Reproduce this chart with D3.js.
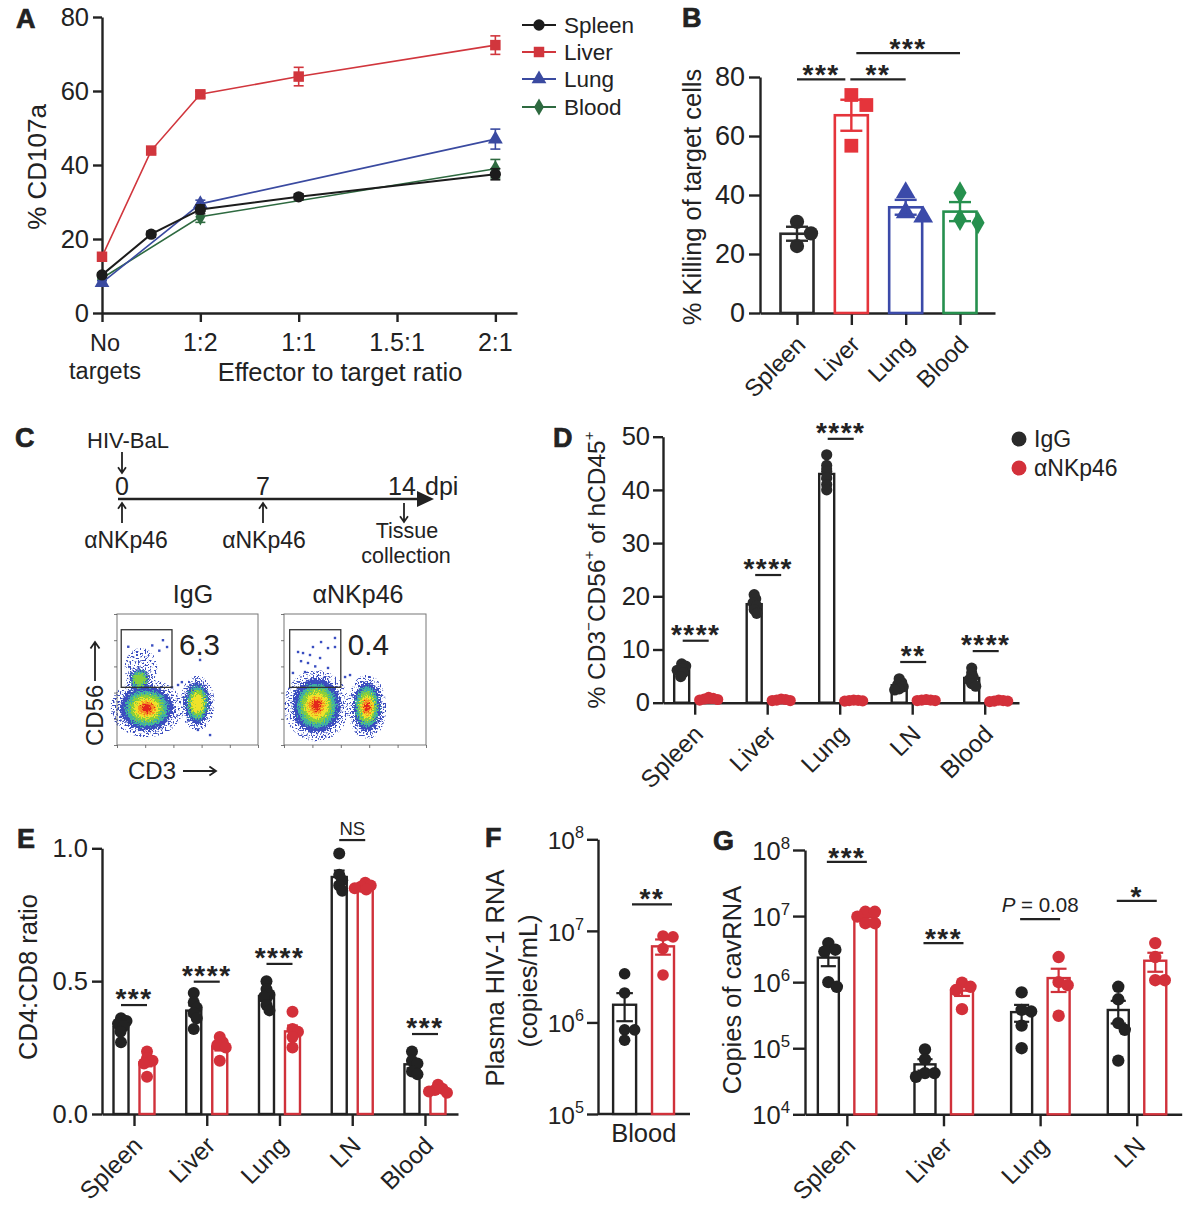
<!DOCTYPE html>
<html><head><meta charset="utf-8">
<script src="https://cdn.jsdelivr.net/npm/d3@7"></script>
<style>
body{margin:0;background:#fff}
svg{display:block}
text{font-family:"Liberation Sans",Arial,Helvetica,sans-serif;fill:#222}
</style></head>
<body><svg id="fig" width="1200" height="1206" viewBox="0 0 1200 1206"></svg>
<script>
// ===================== DATA =====================
// Panel A
const aXTickLabels = [["No","targets"],["1:2"],["1:1"],["1.5:1"],["2:1"]];
const aXTickPos = [0,1,2,3,4];
const aPointX = [0,0.5,1,2,4];
const aYTicks = [0,20,40,60,80];
const aNames = ["Spleen","Liver","Lung","Blood"];
const aSpleen = [10.3,21.3,28.0,31.4,37.5];
const aSpleenErr = [0.5,0.8,1.2,0.8,1.5];
const aLiver = [15.2,43.9,59.1,63.9,72.4];
const aLiverErr = [1.0,0.8,0.8,2.5,2.5];
const aLung = [8.2,null,29.5,null,47.0];
const aLungErr = [0.5,null,1.0,null,2.7];
const aBlood = [9.4,null,26.0,null,39.0];
const aBloodErr = [0.5,null,1.5,null,2.5];

// Panel B
const bCats = ["Spleen","Liver","Lung","Blood"];
const bYTicks = [0,20,40,60,80];
const bPoints = [[30.9,22.7,27.0],[73.9,70.5,56.7],[40.8,32.6,34.1],[40.8,30.6,31.7]];
const bSig = [["***",0,1,79.2],["**",1,2,79.2],["***",1,3,88.1]];

// Panel C
const cDays = [0,7,14];
const flowIgGClusters = [
  {cx:0.21,cy:0.28,rx:0.19,ry:0.17,levels:6},
  {cx:0.17,cy:0.59,rx:0.11,ry:0.15,levels:0},
  {cx:0.16,cy:0.50,rx:0.07,ry:0.08,levels:3},
  {cx:0.57,cy:0.32,rx:0.09,ry:0.16,levels:4}
];
const flowAntiClusters = [
  {cx:0.23,cy:0.30,rx:0.17,ry:0.21,levels:6},
  {cx:0.585,cy:0.29,rx:0.10,ry:0.19,levels:6}
];
const flowIgGEvents = [[0.326,0.80],[0.355,0.748],[0.589,0.649],[0.66,0.076],[0.574,0.115],[0.433,0.458],[0.46,0.48],[0.52,0.458],[0.30,0.72],[0.39,0.44],[0.08,0.75],[0.25,0.76]];
const flowAntiEvents = [[0.099,0.71],[0.134,0.702],[0.183,0.687],[0.261,0.786],[0.31,0.74],[0.359,0.817],[0.359,0.748],[0.204,0.748],[0.254,0.664],[0.169,0.626],[0.063,0.55],[0.148,0.557],[0.31,0.588],[0.43,0.519],[0.465,0.534],[0.22,0.60],[0.12,0.64]];
const flowGateIgG = "6.3";
const flowGateAnti = "0.4";

// Panel D
const dCats = ["Spleen","Liver","Lung","LN","Blood"];
const dYTicks = [0,10,20,30,40,50];
const dIgG = [[7.3,6.9,6.4,6.1,5.6,4.9],[20.3,19.5,18.8,18.2,17.5,16.8],[46.6,44.6,43.5,42.3,41.0,40.0],[4.5,3.8,3.4,3.0,2.6,2.4],[6.5,5.6,4.8,4.3,3.6,3.1]];
const dAnti = [[1.0,0.8,0.7,0.6,0.5],[0.7,0.6,0.5,0.4,0.4],[0.5,0.45,0.4,0.35,0.3],[0.6,0.5,0.5,0.4,0.4],[0.5,0.4,0.3,0.3,0.2]];
const dSigLabels = ["****","****","****","**","****"];
const dSigLevels = [11.65,24.0,49.6,7.65,9.7];

// Panel E
const eCats = ["Spleen","Liver","Lung","LN","Blood"];
const eYTicks = [0,0.5,1.0];
const eIgG = [[0.36,0.35,0.34,0.33,0.31,0.27],[0.455,0.42,0.40,0.38,0.36,0.32],[0.50,0.47,0.45,0.44,0.41,0.39],[0.98,0.90,0.88,0.86,0.84],[0.235,0.20,0.19,0.16,0.15]];
const eAnti = [[0.235,0.21,0.20,0.19,0.14],[0.29,0.27,0.26,0.25,0.20],[0.385,0.32,0.31,0.29,0.25],[0.87,0.86,0.855,0.85,0.845],[0.11,0.095,0.09,0.085,0.08]];
const eSigLabels = ["***","****","****","NS","***"];
const eSigLevels = [0.41,0.498,0.565,1.031,0.301];

// Panel F
const fCat = "Blood";
const fYTicks = [1e5,1e6,1e7,1e8];
const fIgG = [3.4e6,2.1e6,8.3e5,8.3e5,6.4e5];
const fAnti = [8.6e6,8.8e6,6.4e6,3.3e6];
const fSigLabel = "**";
const fSigLevel = 1.95e7;

// Panel G
const gCats = ["Spleen","Liver","Lung","LN"];
const gYTicks = [1e4,1e5,1e6,1e7,1e8];
const gIgG = [[3.9e6,3.1e6,2.9e6,1.0e6,8.5e5],[9.6e4,6.8e4,4.2e4,4.2e4,3.7e4],[7.0e5,3.6e5,3.8e5,2.2e5,1.0e5],[8.5e5,5.5e5,2.4e5,1.9e5,6.5e4]];
const gAnti = [[1.16e7,1.16e7,9.8e6,7.8e6,7.8e6],[9.8e5,8.5e5,7.6e5,3.9e5],[2.4e6,1.0e6,9.0e5,3.1e5],[3.9e6,2.4e6,1.07e6,1.07e6]];
const gSigLabels = ["***","***","P = 0.08","*"];
const gSigLevels = [6.6e7,3.9e6,9.0e6,1.7e7];

// ===================== STYLE =====================
const FONT = '"Liberation Sans", Arial, Helvetica, sans-serif';
const INK = "#222";
const RED = "#d0313a";
const aColors = ["#1c1c1c","#d1363d","#3a4aa0","#2e6a40"];
const bColors = ["#2a2a2a","#e5343b","#3b4aa9","#26904e"];
const flowColors = ["#3a4ec0","#3fb3a0","#86cf3c","#f0e229","#f59322","#e4261d"];
const flowFrac = [1,0.8,0.63,0.47,0.32,0.18];
const STAR = 28;

const svg = d3.select("#fig");
const defs = svg.append("defs");
const flt = defs.append("filter").attr("id","rough").attr("x","-30%").attr("y","-30%").attr("width","160%").attr("height","160%");
flt.append("feTurbulence").attr("type","fractalNoise").attr("baseFrequency",0.7).attr("numOctaves",2).attr("seed",5).attr("result","n");
flt.append("feDisplacementMap").attr("in","SourceGraphic").attr("in2","n").attr("scale",11).attr("xChannelSelector","R").attr("yChannelSelector","G");
const spk = defs.append("filter").attr("id","speckle").attr("x","-30%").attr("y","-30%").attr("width","160%").attr("height","160%");
spk.append("feTurbulence").attr("type","fractalNoise").attr("baseFrequency",0.6).attr("numOctaves",1).attr("seed",11).attr("result","t");
spk.append("feColorMatrix").attr("in","t").attr("type","matrix")
  .attr("values","0 0 0 0 0  0 0 0 0 0  0 0 0 0 0  12 0 0 0 -6.4").attr("result","a");
spk.append("feComposite").attr("in","SourceGraphic").attr("in2","a").attr("operator","in");

function styleAxis(g, fs, sw) {
  sw = sw || 2.4;
  g.attr("font-family", FONT).attr("font-size", fs);
  g.select(".domain").attr("stroke", INK).attr("stroke-width", sw);
  g.selectAll(".tick line").attr("stroke", INK).attr("stroke-width", sw);
  g.selectAll(".tick text").attr("fill", INK);
}
function letter(x, y, ch) {
  svg.append("text").attr("x", x).attr("y", y).attr("font-size", 27).attr("font-weight", "bold")
    .attr("stroke", INK).attr("stroke-width", 0.7).text(ch);
}
function text(g, x, y, s, fs, anchor, extra) {
  const t = g.append("text").attr("x", x).attr("y", y).attr("font-size", fs).attr("text-anchor", anchor || "middle").text(s);
  if (extra) Object.entries(extra).forEach(([k, v]) => t.attr(k, v));
  return t;
}
function yTitle(g, cx, cy, fs, parts) {
  const t = g.append("text").attr("transform", `translate(${cx + 0.35 * fs},${cy}) rotate(-90)`)
    .attr("text-anchor", "middle").attr("font-size", fs);
  let up = false;
  parts.forEach(([s, sup]) => {
    const ts = t.append("tspan").text(s);
    if (sup && !up) { ts.attr("dy", -0.42 * fs).attr("font-size", fs * 0.62); up = true; }
    else if (sup) { ts.attr("font-size", fs * 0.62); }
    else if (up) { ts.attr("dy", 0.42 * fs); up = false; }
  });
  return t;
}
function rotLabels(g, xs, y0, labels, fs) {
  labels.forEach((l, i) => {
    g.append("text").attr("transform", `translate(${xs[i] + 10},${y0 + 33}) rotate(-45)`)
      .attr("text-anchor", "end").attr("font-size", fs).text(l);
  });
}
function swarm(ys, r, overlap) {
  const order = ys.map((y, i) => i).sort((a, b) => ys[a] - ys[b]);
  const placed = [], xs = new Array(ys.length);
  const minD = 2 * r * overlap;
  for (const i of order) {
    let best = 0;
    for (let k = 0; k < 400; k++) {
      const c = (k % 2 ? 1 : -1) * Math.ceil(k / 2) * 0.5;
      if (placed.every(p => (p.x - c) ** 2 + (p.y - ys[i]) ** 2 >= minD * minD)) { best = c; break; }
    }
    xs[i] = best; placed.push({ x: best, y: ys[i] });
  }
  return xs;
}
function sigMark(g, x1, x2, yLine, label, fs, dyText) {
  g.append("line").attr("x1", x1).attr("x2", x2).attr("y1", yLine).attr("y2", yLine)
    .attr("stroke", INK).attr("stroke-width", 2.2);
  const cx = (x1 + x2) / 2;
  if (label.startsWith("P")) {
    const t = text(g, cx, yLine + dyText, "", fs, "middle");
    t.append("tspan").attr("font-style", "italic").text("P");
    t.append("tspan").text(label.slice(1));
  } else if (label.includes("*")) {
    text(g, cx, yLine + dyText, label, fs, "middle", { "font-weight": "bold", "letter-spacing": "1.5px" });
  } else {
    text(g, cx, yLine + dyText, label, fs, "middle");
  }
}
// generic bar + dot chart
function barGroups(g, x, y, base, nCats, groups, r, overlap, logScale) {
  const stats = groups.map(gr => gr.values.map(v => {
    const m = d3.mean(v);
    const s = d3.deviation(v) / Math.sqrt(v.length);
    return { m, s };
  }));
  groups.forEach((gr, gi) => {
    for (let i = 0; i < nCats; i++) {
      const cx = x(i) + gr.offset, m = stats[gi][i].m;
      g.append("rect").attr("x", cx - gr.width / 2).attr("y", y(m)).attr("width", gr.width)
        .attr("height", Math.max(0, base - y(m))).attr("fill", "#fff")
        .attr("stroke", gr.color).attr("stroke-width", gr.sw || 2.4);
    }
  });
  groups.forEach((gr, gi) => {
    for (let i = 0; i < nCats; i++) {
      const cx = x(i) + gr.offset, st = stats[gi][i];
      const lo = logScale ? Math.max(st.m - st.s, st.m * 0.3) : st.m - st.s;
      const y1 = y(st.m + st.s), y2 = y(lo), cw = gr.width * 0.72;
      const eg = g.append("g").attr("stroke", gr.color).attr("stroke-width", 2.2);
      eg.append("line").attr("x1", cx).attr("x2", cx).attr("y1", y1).attr("y2", y2);
      eg.append("line").attr("x1", cx - cw / 2).attr("x2", cx + cw / 2).attr("y1", y1).attr("y2", y1);
      eg.append("line").attr("x1", cx - cw / 2).attr("x2", cx + cw / 2).attr("y1", y2).attr("y2", y2);
    }
  });
  groups.forEach((gr, gi) => {
    for (let i = 0; i < nCats; i++) {
      const vals = gr.values[i];
      const ys = vals.map(v => y(v));
      const offs = swarm(ys, r, overlap);
      const cx = x(i) + gr.offset;
      g.selectAll(null).data(vals).enter().append("circle")
        .attr("cx", (d, k) => cx + offs[k]).attr("cy", d => y(d)).attr("r", r)
        .attr("fill", gr.dot || gr.color);
    }
  });
}
function logTickLabels(g, yS, ticks, xRight, fs) {
  ticks.forEach(t => {
    const e = Math.round(Math.log10(t));
    const tx = g.append("text").attr("x", xRight).attr("y", yS(t) + 10).attr("text-anchor", "end").attr("font-size", fs);
    tx.append("tspan").text("10");
    tx.append("tspan").attr("dy", -11).attr("font-size", fs * 0.66).text(String(e));
  });
}

// ===================== PANEL A =====================
(function () {
  const g = svg.append("g");
  const x = d3.scaleLinear().domain([0, 4.22]).range([102, 517]);
  const y = d3.scaleLinear().domain([0, 80]).range([313, 17]);
  g.append("g").attr("transform", "translate(102,0)")
    .call(d3.axisLeft(y).tickValues(aYTicks).tickSize(9).tickSizeOuter(0).tickPadding(4))
    .call(a => styleAxis(a, 25.5));
  g.append("g").attr("transform", "translate(0,313)")
    .call(d3.axisBottom(x).tickValues(aXTickPos).tickSize(9).tickSizeOuter(0).tickFormat(""))
    .call(a => styleAxis(a, 25));
  aXTickPos.forEach((p, i) => {
    const fs = i === 0 ? 23.5 : 25;
    const t = g.append("text").attr("x", x(p) + (i === 0 ? 3 : 0)).attr("y", 351).attr("text-anchor", "middle").attr("font-size", fs);
    aXTickLabels[i].forEach((ln, j) => t.append("tspan").attr("x", x(p) + (i === 0 ? 3 : 0)).attr("dy", j ? 27.5 : 0).text(ln));
  });
  text(g, 340, 381, "Effector to target ratio", 25.5);
  yTitle(g, 37, 167, 26, [["% CD107a", 0]]);

  const series = [aSpleen, aLiver, aLung, aBlood];
  const errs = [aSpleenErr, aLiverErr, aLungErr, aBloodErr];
  const shapes = [d3.symbolCircle, d3.symbolSquare, d3.symbolTriangle, d3.symbolDiamond];
  const sizes = [100, 110, 95, 85];
  const order = [3, 2, 0, 1];
  order.forEach(si => {
    const pts = aPointX.map((px, k) => ({ x: px, v: series[si][k], e: errs[si][k] })).filter(d => d.v !== null);
    const col = aColors[si];
    g.append("path").datum(pts).attr("fill", "none").attr("stroke", col).attr("stroke-width", si === 0 ? 2 : 1.6)
      .attr("d", d3.line().x(d => x(d.x)).y(d => y(d.v)));
    pts.forEach(d => {
      const cx = x(d.x);
      g.append("line").attr("x1", cx).attr("x2", cx).attr("y1", y(d.v + d.e)).attr("y2", y(d.v - d.e)).attr("stroke", col).attr("stroke-width", 1.6);
      [d.v + d.e, d.v - d.e].forEach(v => g.append("line").attr("x1", cx - 5).attr("x2", cx + 5).attr("y1", y(v)).attr("y2", y(v)).attr("stroke", col).attr("stroke-width", 1.6));
    });
    g.selectAll(null).data(pts).enter().append("path")
      .attr("transform", d => `translate(${x(d.x)},${y(d.v)})`)
      .attr("d", d3.symbol().type(shapes[si]).size(sizes[si])).attr("fill", col);
  });
  const ly = [25, 52, 79, 107];
  aNames.forEach((n, i) => {
    g.append("line").attr("x1", 522).attr("x2", 556).attr("y1", ly[i]).attr("y2", ly[i]).attr("stroke", aColors[i]).attr("stroke-width", 1.8);
    g.append("path").attr("transform", `translate(539,${ly[i]})`).attr("d", d3.symbol().type(shapes[i]).size(sizes[i])).attr("fill", aColors[i]);
    text(g, 564, ly[i] + 8, n, 22.5, "start");
  });
  letter(16, 28, "A");
})();

// ===================== PANEL B =====================
(function () {
  const g = svg.append("g");
  const x = d3.scaleLinear().domain([-0.681, 3.644]).range([760, 995]);
  const y = d3.scaleLinear().domain([0, 80]).range([313, 77]);
  g.append("g").attr("transform", "translate(760,0)")
    .call(d3.axisLeft(y).tickValues(bYTicks).tickSize(11).tickSizeOuter(0).tickPadding(4))
    .call(a => styleAxis(a, 27));
  g.append("g").attr("transform", "translate(0,313)")
    .call(d3.axisBottom(x).tickValues([0, 1, 2, 3]).tickSize(12).tickSizeOuter(0).tickFormat(""))
    .call(a => styleAxis(a, 24));
  rotLabels(g, [0, 1, 2, 3].map(x), 313, bCats, 24);
  yTitle(g, 692, 197, 25.5, [["% Killing of target cells", 0]]);
  const shapes = [d3.symbolCircle, d3.symbolSquare, d3.symbolTriangle, d3.symbolDiamond];
  const sizes = [160, 190, 170, 150];
  bCats.forEach((c, i) => {
    const vals = bPoints[i], m = d3.mean(vals), s = d3.deviation(vals) / Math.sqrt(vals.length);
    const cx = x(i), w = 33, col = bColors[i];
    g.append("rect").attr("x", cx - w / 2).attr("y", y(m)).attr("width", w).attr("height", 313 - y(m))
      .attr("fill", "#fff").attr("stroke", col).attr("stroke-width", 2.6);
    const ys = vals.map(v => y(v));
    const offs = swarm(ys, 7.2, 1.25);
    g.selectAll(null).data(vals).enter().append("path")
      .attr("transform", (d, k) => `translate(${cx + offs[k]},${y(d)})`)
      .attr("d", d3.symbol().type(shapes[i]).size(sizes[i])).attr("fill", col);
    const eg = g.append("g").attr("stroke", col).attr("stroke-width", 2.4);
    eg.append("line").attr("x1", cx).attr("x2", cx).attr("y1", y(m + s)).attr("y2", y(m - s));
    eg.append("line").attr("x1", cx - 11).attr("x2", cx + 11).attr("y1", y(m + s)).attr("y2", y(m + s));
    eg.append("line").attr("x1", cx - 11).attr("x2", cx + 11).attr("y1", y(m - s)).attr("y2", y(m - s));
  });
  const offs = [[0, -6], [-1, 0], [5, 0]];
  bSig.forEach(([lab, a, b, lv], k) => sigMark(g, x(a) + offs[k][0], x(b) + offs[k][1], y(lv), lab, STAR, 5));
  letter(682, 27, "B");
})();

// ===================== PANEL C =====================
(function () {
  const g = svg.append("g");
  const tx = d3.scaleLinear().domain([0, 14]).range([122, 404]);
  const lineY = 499;
  function arrow(x1, y1, x2, y2, head) {
    const p = d3.path(); p.moveTo(x1, y1); p.lineTo(x2, y2);
    const ang = Math.atan2(y2 - y1, x2 - x1);
    const h = head || 7;
    p.moveTo(x2 - h * Math.cos(ang - 0.6), y2 - h * Math.sin(ang - 0.6));
    p.lineTo(x2, y2);
    p.lineTo(x2 - h * Math.cos(ang + 0.6), y2 - h * Math.sin(ang + 0.6));
    g.append("path").attr("d", p.toString()).attr("fill", "none").attr("stroke", INK).attr("stroke-width", 1.8);
  }
  text(g, 128, 448, "HIV-BaL", 22);
  arrow(tx(0), 452, tx(0), 473);
  g.append("line").attr("x1", 118).attr("x2", 418).attr("y1", lineY).attr("y2", lineY).attr("stroke", INK).attr("stroke-width", 2.6);
  g.append("path").attr("d", `M417,${lineY - 8}L434,${lineY}L417,${lineY + 8}Z`).attr("fill", INK);
  cDays.forEach(dd => text(g, tx(dd) + (dd === 14 ? -2 : 0), 495, String(dd), 25));
  text(g, 425, 495, "dpi", 25, "start");
  arrow(tx(0), 523, tx(0), 503);
  arrow(tx(7), 523, tx(7), 503);
  text(g, 126, 548, "\u03b1NKp46", 23);
  text(g, 264, 548, "\u03b1NKp46", 23);
  arrow(tx(14), 503, tx(14), 522);
  text(g, 407, 538, "Tissue", 21.5);
  text(g, 406, 563, "collection", 21.5);

  function flow(x0, y0, w, h, clusters, events, gate, val, title, titleX) {
    const fx = d3.scaleLinear().domain([0, 1]).range([x0, x0 + w]);
    const fy = d3.scaleLinear().domain([0, 1]).range([y0 + h, y0]);
    const cl = g.append("g");
    const halo = cl.append("g").attr("filter", "url(#speckle)");
    clusters.forEach(c => {
      const k = c.levels === 0 ? 1.05 : 1.35;
      halo.append("ellipse").attr("cx", fx(c.cx)).attr("cy", fy(c.cy))
        .attr("rx", (fx(c.rx) - fx(0)) * k).attr("ry", (fy(0) - fy(c.ry)) * (k - 0.05))
        .attr("fill", flowColors[0]);
    });
    const blob = cl.append("g").attr("filter", "url(#rough)");
    clusters.forEach(c => {
      for (let L = 0; L < c.levels; L++) {
        blob.append("ellipse").attr("cx", fx(c.cx)).attr("cy", fy(c.cy))
          .attr("rx", (fx(c.rx) - fx(0)) * flowFrac[L]).attr("ry", (fy(0) - fy(c.ry)) * flowFrac[L])
          .attr("fill", flowColors[L]);
      }
    });
    cl.selectAll(null).data(events).enter().append("rect")
      .attr("x", d => fx(d[0]) - 1.2).attr("y", d => fy(d[1]) - 1.2).attr("width", 2.4).attr("height", 2.4)
      .attr("fill", flowColors[0]);
    g.append("rect").attr("x", x0).attr("y", y0).attr("width", w).attr("height", h)
      .attr("fill", "none").attr("stroke", "#777").attr("stroke-width", 1);
    const ly = d3.scaleLog().domain([1, 1e5]).range([y0 + h, y0]);
    const lx = d3.scaleLog().domain([1, 1e5]).range([x0, x0 + w]);
    g.append("g").attr("transform", `translate(${x0},0)`).call(d3.axisLeft(ly).ticks(5).tickSize(3).tickSizeOuter(0).tickFormat(""))
      .call(a => { a.select(".domain").remove(); a.selectAll("line").attr("stroke", "#555").attr("stroke-width", 0.8); });
    g.append("g").attr("transform", `translate(0,${y0 + h})`).call(d3.axisBottom(lx).ticks(5).tickSize(3).tickSizeOuter(0).tickFormat(""))
      .call(a => { a.select(".domain").remove(); a.selectAll("line").attr("stroke", "#555").attr("stroke-width", 0.8); });
    g.append("rect").attr("x", fx(gate[0])).attr("y", fy(gate[3])).attr("width", fx(gate[1]) - fx(gate[0]))
      .attr("height", fy(gate[2]) - fy(gate[3])).attr("fill", "none").attr("stroke", "#333").attr("stroke-width", 1.3);
    text(g, fx(gate[1]) + 7, 655, val, 29.5, "start", { fill: "#333" });
    text(g, titleX, 603, title, 25);
  }
  flow(117, 614, 141, 131, flowIgGClusters, flowIgGEvents, [0.03, 0.39, 0.44, 0.88], flowGateIgG, "IgG", 193);
  flow(284, 614, 142, 131, flowAntiClusters, flowAntiEvents, [0.04, 0.40, 0.44, 0.88], flowGateAnti, "\u03b1NKp46", 358);
  g.append("text").attr("transform", `translate(${95 + 0.35 * 24},746) rotate(-90)`).attr("font-size", 24).attr("text-anchor", "start").text("CD56");
  arrow(95, 681, 95, 642, 8);
  text(g, 128, 779, "CD3", 24, "start");
  arrow(183, 771, 216, 771, 8);
  letter(15, 447, "C");
})();

// ===================== PANEL D =====================
(function () {
  const g = svg.append("g");
  const x = d3.scaleLinear().domain([-0.437, 4.473]).range([663, 1019]);
  const y = d3.scaleLinear().domain([0, 50]).range([702.7, 436.7]);
  const base = 702.7;
  g.append("g").attr("transform", "translate(663,0)")
    .call(d3.axisLeft(y).tickValues(dYTicks).tickSize(10).tickSizeOuter(0).tickPadding(3))
    .call(a => styleAxis(a, 25.5));
  g.append("g").attr("transform", `translate(0,${base})`)
    .call(d3.axisBottom(x).tickValues(d3.range(dCats.length)).tickSize(12).tickSizeOuter(0).tickFormat(""))
    .call(a => styleAxis(a, 24));
  barGroups(g, x, y, base, dCats.length, [
    { values: dIgG, color: INK, dot: "#2a2a2a", offset: -13, width: 15 },
    { values: dAnti, color: RED, dot: "#d3303a", offset: 14, width: 15 }
  ], 5.6, 0.4, false);
  dCats.forEach((c, i) => sigMark(g, x(i) - 12, x(i) + 14, y(dSigLevels[i]), dSigLabels[i], STAR, 3));
  rotLabels(g, d3.range(dCats.length).map(x), base, dCats, 24.5);
  yTitle(g, 596, 570, 24.5, [["% CD3", 0], ["\u2212", 1], ["CD56", 0], ["+", 1], [" of hCD45", 0], ["+", 1]]);
  g.append("circle").attr("cx", 1019).attr("cy", 439).attr("r", 7.5).attr("fill", "#2a2a2a");
  g.append("circle").attr("cx", 1019).attr("cy", 468).attr("r", 7.5).attr("fill", "#d3303a");
  text(g, 1034, 447, "IgG", 23, "start");
  text(g, 1034, 476, "\u03b1NKp46", 23, "start");
  letter(553, 447, "D");
})();

// ===================== PANEL E =====================
(function () {
  const g = svg.append("g");
  const x = d3.scaleLinear().domain([-0.44, 4.454]).range([102, 458]);
  const y = d3.scaleLinear().domain([0, 1]).range([1114, 848.3]);
  const base = 1114;
  g.append("g").attr("transform", "translate(102,0)")
    .call(d3.axisLeft(y).tickValues(eYTicks).tickFormat(d3.format(".1f")).tickSize(10).tickSizeOuter(0).tickPadding(4))
    .call(a => styleAxis(a, 25.5));
  g.append("g").attr("transform", `translate(0,${base})`)
    .call(d3.axisBottom(x).tickValues(d3.range(eCats.length)).tickSize(12).tickSizeOuter(0).tickFormat(""))
    .call(a => styleAxis(a, 24));
  barGroups(g, x, y, base, eCats.length, [
    { values: eIgG, color: INK, dot: "#222", offset: -13, width: 15 },
    { values: eAnti, color: RED, dot: "#d3303a", offset: 13, width: 15 }
  ], 6, 0.5, false);
  eCats.forEach((c, i) => {
    const lab = eSigLabels[i];
    sigMark(g, x(i) - 13, x(i) + 13, y(eSigLevels[i]), lab, lab === "NS" ? 18.5 : STAR, lab === "NS" ? -5 : 3);
  });
  rotLabels(g, d3.range(eCats.length).map(x), base, eCats, 24.5);
  yTitle(g, 28, 977, 25.5, [["CD4:CD8 ratio", 0]]);
  letter(17, 848, "E");
})();

// ===================== PANEL F =====================
(function () {
  const g = svg.append("g");
  const x = d3.scaleLinear().domain([-0.693, 1.703]).range([598, 690]);
  const y = d3.scaleLog().domain([1e5, 1e8]).range([1114, 839.3]);
  const base = 1114;
  g.append("g").attr("transform", "translate(598,0)")
    .call(d3.axisLeft(y).tickValues(fYTicks).tickFormat("").tickSize(11).tickSizeOuter(0))
    .call(a => styleAxis(a, 24));
  g.append("line").attr("x1", 598).attr("x2", 690).attr("y1", base).attr("y2", base).attr("stroke", INK).attr("stroke-width", 2.4);
  logTickLabels(g, y, fYTicks, 584, 24.5);
  barGroups(g, i => x(0), y, base, 1, [
    { values: [fIgG], color: INK, dot: "#222", offset: 0, width: 23 },
    { values: [fAnti], color: RED, dot: "#d3303a", offset: x(1) - x(0), width: 22 }
  ], 5.8, 0.85, true);
  sigMark(g, 632, 672, y(fSigLevel), fSigLabel, STAR, 4);
  text(g, x(0.5), 1142, fCat, 25.5);
  yTitle(g, 495, 978, 25.5, [["Plasma HIV-1 RNA", 0]]);
  yTitle(g, 528, 981, 25.5, [["(copies/mL)", 0]]);
  letter(485, 847, "F");
})();

// ===================== PANEL G =====================
(function () {
  const g = svg.append("g");
  const x = d3.scaleLinear().domain([-0.433, 3.465]).range([805, 1181.7]);
  const y = d3.scaleLog().domain([1e4, 1e8]).range([1114.3, 850]);
  const base = 1114.3;
  g.append("g").attr("transform", "translate(805,0)")
    .call(d3.axisLeft(y).tickValues(gYTicks).tickFormat("").tickSize(12).tickSizeOuter(0))
    .call(a => styleAxis(a, 24));
  g.append("g").attr("transform", `translate(0,${base})`)
    .call(d3.axisBottom(x).tickValues(d3.range(gCats.length)).tickSize(12).tickSizeOuter(0).tickFormat(""))
    .call(a => styleAxis(a, 24));
  logTickLabels(g, y, gYTicks, 790, 25.5);
  barGroups(g, x, y, base, gCats.length, [
    { values: gIgG, color: INK, dot: "#222", offset: -18.5, width: 21 },
    { values: gAnti, color: RED, dot: "#d3303a", offset: 18.5, width: 22 }
  ], 6.2, 0.75, true);
  gCats.forEach((c, i) => {
    const lab = gSigLabels[i];
    sigMark(g, x(i) - 20, x(i) + 20, y(gSigLevels[i]), lab, lab.startsWith("P") ? 20.5 : STAR, lab.startsWith("P") ? -7 : 5);
  });
  rotLabels(g, d3.range(gCats.length).map(x), base, gCats, 24.5);
  yTitle(g, 732, 990, 25.5, [["Copies of cavRNA", 0]]);
  letter(713, 850, "G");
})();
</script></body></html>
